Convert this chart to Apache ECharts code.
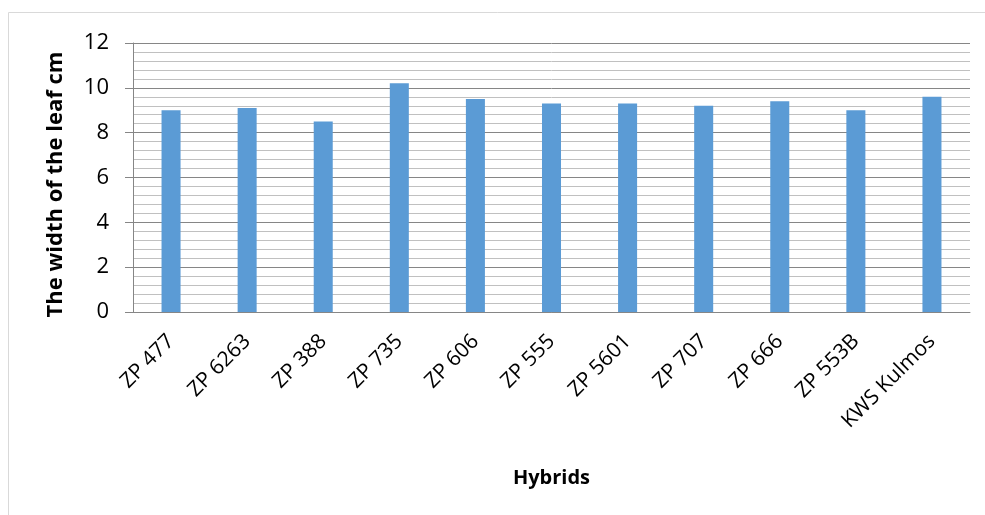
<!DOCTYPE html>
<html>
<head>
<meta charset="utf-8">
<script src="https://cdn.jsdelivr.net/npm/echarts@6/dist/echarts.min.js"></script>
<style>
  html, body { margin: 0; padding: 0; background: #fff; }
  #chart { width: 985px; height: 515px; }
</style>
</head>
<body>
<div id="chart"></div>
<script>
// Leaf width per maize hybrid
const hybrids = ['ZP 477', 'ZP 6263', 'ZP 388', 'ZP 735', 'ZP 606', 'ZP 555', 'ZP 5601', 'ZP 707', 'ZP 666', 'ZP 553B', 'KWS Kulmos'];
const leafWidth = [9.0, 9.1, 8.5, 10.2, 9.5, 9.3, 9.3, 9.2, 9.4, 9.0, 9.6];
const yTicks = { min: 0, max: 12, interval: 2 };

const FONT = 'Open Sans';
const chart = echarts.init(document.getElementById('chart'));
chart.setOption({
  animation: false,
  textStyle: { fontFamily: FONT },
  graphic: [{
    type: 'rect',
    shape: { x: 8.5, y: 12.5, width: 1100, height: 600 },
    style: { fill: 'none', stroke: '#d9d9d9', lineWidth: 1 },
    silent: true
  }],
  grid: { left: 133, right: 15, top: 43, bottom: 203, containLabel: false },
  xAxis: {
    type: 'category',
    data: hybrids,
    name: 'Hybrids',
    nameLocation: 'middle',
    nameGap: 156,
    nameTextStyle: { fontFamily: FONT, fontSize: 20, fontWeight: 'bold', color: '#000' },
    axisLine: { lineStyle: { color: '#868686', width: 1 } },
    axisTick: { show: false },
    axisLabel: { rotate: 45, margin: 26, fontFamily: FONT, fontSize: 21, color: '#000', interval: 0 },
    splitLine: { show: false }
  },
  yAxis: {
    type: 'value',
    min: yTicks.min,
    max: yTicks.max,
    interval: yTicks.interval,
    name: 'The width of the leaf cm',
    nameLocation: 'middle',
    nameGap: 66,
    nameTextStyle: { fontFamily: FONT, fontSize: 22, fontWeight: 'bold', color: '#000', padding: [0, 14, 0, 0] },
    axisLine: { show: true, lineStyle: { color: '#868686', width: 1 } },
    axisTick: { show: true, length: 8, lineStyle: { color: '#868686' } },
    axisLabel: { margin: 24, fontFamily: FONT, fontSize: 22, color: '#000' },
    splitLine: { show: true, lineStyle: { color: '#868686', width: 1 } },
    minorTick: { show: false, splitNumber: 5 },
    minorSplitLine: { show: true, lineStyle: { color: '#c0c0c0', width: 1 } }
  },
  series: [{
    type: 'bar',
    data: leafWidth,
    barWidth: '25%',
    itemStyle: { color: '#5B9BD5' }
  }]
});
</script>
</body>
</html>
